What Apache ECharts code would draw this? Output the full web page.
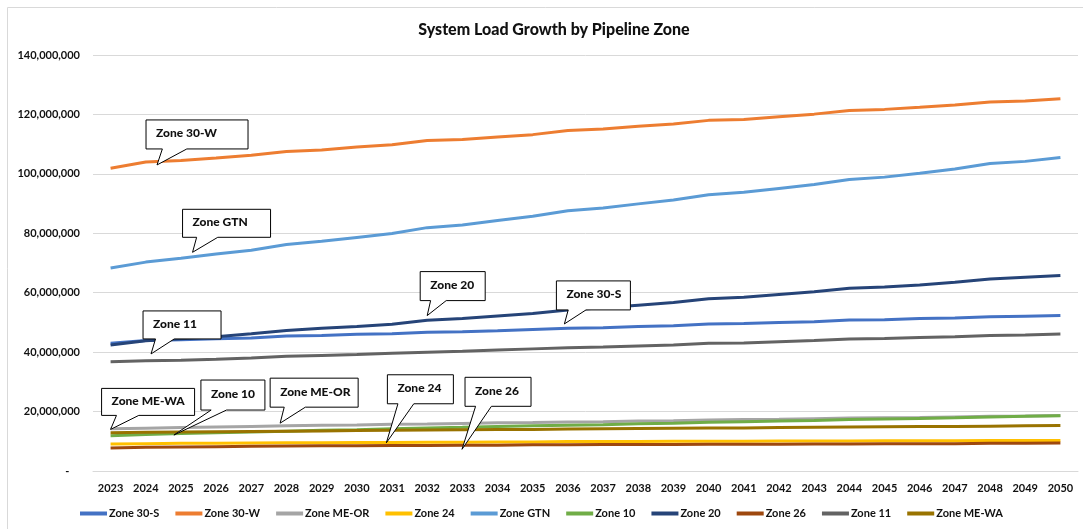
<!DOCTYPE html>
<html>
<head>
<meta charset="utf-8">
<title>System Load Growth by Pipeline Zone</title>
<script src="https://cdn.jsdelivr.net/npm/echarts@6/dist/echarts.min.js"></script>
<style>
  html, body { margin: 0; padding: 0; background: #fff; }
  #chart { width: 1083px; height: 529px; }
</style>
</head>
<body>
<div id="chart"></div>
<script>
// values are in millions
const years = ['2023', '2024', '2025', '2026', '2027', '2028', '2029', '2030', '2031', '2032',
  '2033', '2034', '2035', '2036', '2037', '2038', '2039', '2040', '2041', '2042',
  '2043', '2044', '2045', '2046', '2047', '2048', '2049', '2050']

const zone30S = [43.0, 43.9, 44.2, 44.5, 44.8, 45.4, 45.6, 46.0, 46.2, 46.7, 46.9, 47.2, 47.6, 48.0,
  48.2, 48.6, 48.9, 49.5, 49.6, 50.0, 50.2, 50.8, 50.9, 51.3, 51.5, 51.9, 52.1, 52.3]
const zone30W = [101.9, 104.0, 104.5, 105.3, 106.3, 107.5, 108.0, 109.0, 109.8, 111.2, 111.6, 112.4, 113.2, 114.6,
  115.1, 116.0, 116.8, 118.0, 118.3, 119.2, 120.1, 121.3, 121.7, 122.4, 123.2, 124.2, 124.5, 125.3]
const zoneMEOR = [14.2, 14.4, 14.6, 14.8, 15.0, 15.2, 15.4, 15.5, 15.7, 15.8, 16.0, 16.2, 16.3, 16.5,
  16.6, 16.8, 16.9, 17.2, 17.3, 17.4, 17.6, 17.8, 17.9, 18.0, 18.2, 18.4, 18.5, 18.7]
const zone24 = [9.1, 9.2, 9.3, 9.3, 9.4, 9.5, 9.5, 9.6, 9.6, 9.7, 9.7, 9.8, 9.8, 9.9,
  9.9, 9.9, 10.0, 10.0, 10.0, 10.1, 10.1, 10.1, 10.2, 10.2, 10.2, 10.3, 10.3, 10.3]
const zoneGTN = [68.3, 70.3, 71.6, 73.0, 74.3, 76.2, 77.3, 78.6, 79.9, 81.9, 82.8, 84.3, 85.7, 87.6,
  88.5, 89.9, 91.2, 93.0, 93.8, 95.1, 96.4, 98.1, 98.9, 100.2, 101.6, 103.5, 104.2, 105.5]
const zone10 = [11.9, 12.3, 12.6, 12.9, 13.1, 13.4, 13.7, 13.9, 14.2, 14.5, 14.7, 15.0, 15.2, 15.4,
  15.6, 15.9, 16.1, 16.4, 16.6, 16.8, 17.0, 17.3, 17.5, 17.7, 17.9, 18.2, 18.4, 18.6]
const zone20 = [42.4, 43.8, 44.5, 45.2, 46.2, 47.3, 48.0, 48.6, 49.4, 50.7, 51.3, 52.2, 53.0, 54.2,
  54.9, 55.8, 56.7, 58.0, 58.5, 59.4, 60.3, 61.5, 61.9, 62.6, 63.5, 64.6, 65.2, 65.8]
const zone26 = [7.7, 8.0, 8.1, 8.2, 8.3, 8.4, 8.5, 8.5, 8.6, 8.6, 8.7, 8.7, 8.8, 8.8,
  8.9, 8.9, 8.9, 9.0, 9.0, 9.0, 9.1, 9.1, 9.2, 9.2, 9.2, 9.3, 9.3, 9.4]
const zone11 = [36.8, 37.1, 37.3, 37.6, 38.0, 38.6, 38.9, 39.2, 39.6, 40.0, 40.3, 40.7, 41.1, 41.5,
  41.7, 42.1, 42.4, 43.0, 43.1, 43.5, 43.9, 44.4, 44.6, 44.9, 45.2, 45.6, 45.8, 46.1]
const zoneMEWA = [12.9, 13.0, 13.1, 13.2, 13.3, 13.4, 13.5, 13.6, 13.7, 13.8, 13.9, 14.0, 14.0, 14.1,
  14.2, 14.3, 14.4, 14.5, 14.5, 14.6, 14.7, 14.8, 14.9, 15.0, 15.0, 15.1, 15.2, 15.3]

const seriesNames = ['Zone 30-S', 'Zone 30-W', 'Zone ME-OR', 'Zone 24', 'Zone GTN',
  'Zone 10', 'Zone 20', 'Zone 26', 'Zone 11', 'Zone ME-WA']
const seriesValues = [zone30S, zone30W, zoneMEOR, zone24, zoneGTN, zone10, zone20, zone26, zone11, zoneMEWA]
const seriesColors = ['#4472C4', '#ED7D31', '#A5A5A5', '#FFC000', '#5B9BD5',
  '#70AD47', '#264478', '#9E480E', '#636363', '#997300']

// callouts: label, tip position [category index, value in millions]
const calloutLabels = ['Zone 30-W', 'Zone GTN', 'Zone 20', 'Zone 30-S', 'Zone 11',
  'Zone ME-WA', 'Zone 10', 'Zone ME-OR', 'Zone 24', 'Zone 26']
const calloutTips = [[1.32, 103.0], [2.33, 73.6], [9.0, 52.3], [12.9, 49.5], [1.15, 39.4],
  [0.0, 14.0], [1.8, 12.1], [4.82, 16.1], [7.84, 9.5], [9.99, 7.3]]
// box placement relative to the tip: [dx to box left, dy to box bottom, width, height]
const calloutBoxes = [[-11, -16, 102, 29], [-10, -15, 88, 28], [-7, -15, 65, 29], [-8, -14, 74, 29], [-8, -15, 78, 28],
  [-9, -14, 93, 27], [27, -25, 64, 30], [-10, -16, 88, 29], [1, -39, 66, 29], [3, -43, 66, 29]]

const FONT = 'Lato'
const TEXT_COLOR = '#111'

const chart = echarts.init(document.getElementById('chart'))

chart.setOption({
  animation: false,
  title: {
    text: 'System Load Growth by Pipeline Zone',
    left: 549,
    textAlign: 'center',
    top: 17,
    textStyle: { fontFamily: FONT, fontSize: 16, fontWeight: 900, color: TEXT_COLOR }
  },
  legend: {
    bottom: 5,
    left: 'center',
    icon: 'rect',
    itemWidth: 27,
    itemHeight: 4,
    itemGap: 16,
    data: seriesNames,
    textStyle: { fontFamily: FONT, fontSize: 11, fontWeight: 'bold', color: TEXT_COLOR, padding: [0, 0, 0, -3] }
  },
  grid: {
    left: 93,
    right: 5,
    top: 55,
    bottom: 58
  },
  xAxis: {
    type: 'category',
    boundaryGap: true,
    data: years,
    axisLine: { lineStyle: { color: '#d9d9d9' } },
    axisTick: { show: false },
    axisLabel: {
      margin: 12,
      interval: 0,
      fontFamily: FONT,
      fontSize: 11,
      fontWeight: 'bold',
      color: TEXT_COLOR
    }
  },
  yAxis: {
    type: 'value',
    min: 0,
    max: 140,
    interval: 20,
    axisLine: { show: false },
    axisTick: { show: false },
    axisLabel: {
      margin: 13,
      fontFamily: FONT,
      fontSize: 11,
      fontWeight: 'bold',
      color: TEXT_COLOR,
      formatter: function (v) {
        return v === 0 ? '-    ' : (v * 1e6).toLocaleString('en-US')
      }
    },
    splitLine: { lineStyle: { color: '#d9d9d9', width: 1 } }
  },
  series: seriesNames.map(function (name, i) {
    return {
      name: name,
      type: 'line',
      data: seriesValues[i],
      symbol: 'none',
      lineStyle: { color: seriesColors[i], width: 3 },
      itemStyle: { color: seriesColors[i] }
    }
  })
})

// pixel of a (possibly fractional) category index and value
function tipToPixel (tip) {
  const i0 = Math.floor(tip[0])
  const i1 = Math.min(i0 + 1, years.length - 1)
  const x0 = chart.convertToPixel({ xAxisIndex: 0 }, years[i0])
  const x1 = chart.convertToPixel({ xAxisIndex: 0 }, years[i1])
  const x = x0 + (x1 - x0) * (tip[0] - i0)
  const y = chart.convertToPixel({ yAxisIndex: 0 }, tip[1])
  return [x, y]
}

function buildCallouts () {
  const elements = []
  calloutLabels.forEach(function (label, k) {
    const tip = tipToPixel(calloutTips[k])
    const b = calloutBoxes[k]
    const l = tip[0] + b[0]
    const bottom = tip[1] + b[1]
    const w = b[2]
    const h = b[3]
    const t = bottom - h
    elements.push({
      type: 'polygon',
      z: 100,
      shape: {
        points: [
          [l, t], [l + w, t], [l + w, bottom],
          [l + w * 0.40, bottom], tip, [l + w * 0.16, bottom],
          [l, bottom]
        ]
      },
      style: { fill: '#fff', stroke: '#000', lineWidth: 1 }
    })
    elements.push({
      type: 'text',
      z: 101,
      x: l + 10,
      y: t + h * 0.47,
      style: {
        text: label,
        fill: TEXT_COLOR,
        font: '900 12px ' + FONT,
        verticalAlign: 'middle'
      }
    })
  })
  // light chart border on the left and top
  elements.push({
    type: 'rect',
    z: 0,
    shape: { x: 7.5, y: 7.5, width: 1090, height: 540 },
    style: { fill: 'none', stroke: '#d9d9d9', lineWidth: 1 }
  })
  return elements
}

chart.setOption({ graphic: buildCallouts() })
</script>
</body>
</html>
